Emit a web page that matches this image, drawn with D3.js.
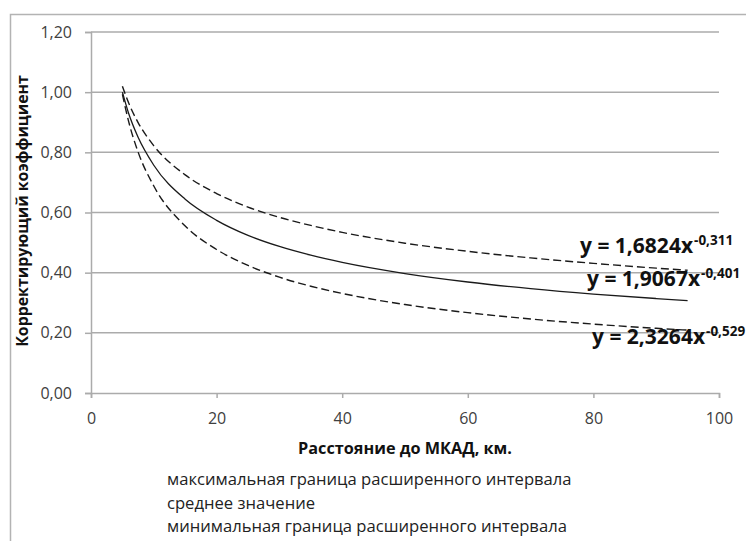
<!DOCTYPE html>
<html><head><meta charset="utf-8">
<script src="https://cdn.jsdelivr.net/npm/d3@7"></script>
<style>body{margin:0;background:#fff}svg{display:block}text{font-family:"Open Sans",sans-serif}</style>
</head><body><svg id="c" width="746" height="541"></svg>
<script>
const xs = [5, 6, 7.5, 10, 15, 20, 25, 30, 35, 40, 50, 60, 70, 80, 90, 95];
const maxVals  = [1.020, 0.964, 0.899, 0.822, 0.725, 0.663, 0.618, 0.584, 0.557, 0.534, 0.498, 0.471, 0.449, 0.431, 0.415, 0.408];
const meanVals = [1.000, 0.929, 0.850, 0.757, 0.644, 0.574, 0.524, 0.487, 0.458, 0.434, 0.397, 0.369, 0.347, 0.329, 0.314, 0.307];
const minVals  = [0.993, 0.902, 0.801, 0.688, 0.555, 0.477, 0.424, 0.385, 0.355, 0.331, 0.294, 0.267, 0.246, 0.229, 0.215, 0.209];
const xTicks = [0, 20, 40, 60, 80, 100];
const yTicks = [0, 0.2, 0.4, 0.6, 0.8, 1.0, 1.2];
const eqLabels = [
  {base: "y = 1,6824x", exp: "-0,311", at: 0.465},
  {base: "y = 1,9067x", exp: "-0,401", at: 0.357},
  {base: "y = 2,3264x", exp: "-0,529", at: 0.163}
];
const legendItems = ["максимальная граница расширенного интервала", "среднее значение", "минимальная граница расширенного интервала"];
const xTitle = "Расстояние до МКАД, км.";
const yTitle = "Корректирующий коэффициент";

const svg = d3.select("#c");
const x = d3.scaleLinear().domain([0, 100]).range([91, 719]);
const y = d3.scaleLinear().domain([0, 1.2]).range([393, 32]);
const grid = "#ababab";

// fit a text element to a target width by adjusting font size
function fit(sel, w) {
  const fs = parseFloat(sel.attr("font-size"));
  const len = sel.node().getComputedTextLength();
  sel.attr("font-size", (fs * w / len).toFixed(2));
}

// frame
svg.append("path").attr("d", "M10.5,541 V14.5 H746").attr("fill", "none").attr("stroke", "#b3b3b3").attr("stroke-width", 1.5);

// gridlines
svg.append("g").selectAll("line").data(yTicks.filter(d => d > 0)).join("line")
  .attr("x1", x(0)).attr("x2", x(100)).attr("y1", d => y(d)).attr("y2", d => y(d))
  .attr("stroke", grid).attr("stroke-width", 1.5);

// y axis
const yAxis = svg.append("g").attr("transform", `translate(${x(0)},0)`)
  .call(d3.axisLeft(y).tickValues(yTicks).tickSize(6).tickPadding(13)
    .tickFormat(d => d3.format(".2f")(d).replace(".", ",")));
// x axis
const xAxis = svg.append("g").attr("transform", `translate(0,${y(0)})`)
  .call(d3.axisBottom(x).tickValues(xTicks).tickSize(5).tickPadding(15).tickFormat(d => d));
[yAxis, xAxis].forEach(g => {
  g.select(".domain").attr("stroke", grid).attr("stroke-width", 1.5);
  g.selectAll(".tick line").attr("stroke", grid).attr("stroke-width", 1.5);
  g.selectAll("text").attr("font-family", "Open Sans").attr("font-size", 16).attr("fill", "#404040");
});

// curves
const line = d3.line().x(d => x(d[0])).y(d => y(d[1])).curve(d3.curveMonotoneX);
const series = [
  {vals: maxVals, dash: "8,4", w: 1.4},
  {vals: meanVals, dash: null, w: 1.3},
  {vals: minVals, dash: "8,4", w: 1.4}
];
series.forEach(s => {
  svg.append("path").datum(xs.map((v, i) => [v, s.vals[i]]))
    .attr("d", line).attr("fill", "none").attr("stroke", "#1a1a1a")
    .attr("stroke-width", s.w).attr("stroke-dasharray", s.dash);
});

// equation labels
const eqX = [580, 587, 592];
eqLabels.forEach((e, i) => {
  const t = svg.append("text").attr("x", eqX[i]).attr("y", y(e.at)).attr("font-weight", "bold")
    .attr("font-size", 21).attr("fill", "#111");
  t.append("tspan").text(e.base);
  t.append("tspan").attr("dx", 1).attr("dy", -8).attr("font-size", 13.5).text(e.exp);
});

// axis titles
const xt = svg.append("text").attr("x", 405).attr("y", 454).attr("text-anchor", "middle")
  .attr("font-weight", "bold").attr("font-size", 16).attr("fill", "#111").text(xTitle);
fit(xt, 214);
const yt = svg.append("text").attr("transform", "translate(28,211) rotate(-90)").attr("text-anchor", "middle")
  .attr("font-weight", "bold").attr("font-size", 16).attr("fill", "#111").text(yTitle);
fit(yt, 272);

// legend
const lg = svg.append("g").selectAll("text").data(legendItems).join("text")
  .attr("x", 167).attr("y", (d, i) => 485 + i * 23.7)
  .attr("font-size", 16.6).attr("fill", "#222").text(d => d);
fit(d3.select(lg.nodes()[0]), 405);
const fsz = d3.select(lg.nodes()[0]).attr("font-size");
lg.attr("font-size", fsz);
</script></body></html>
